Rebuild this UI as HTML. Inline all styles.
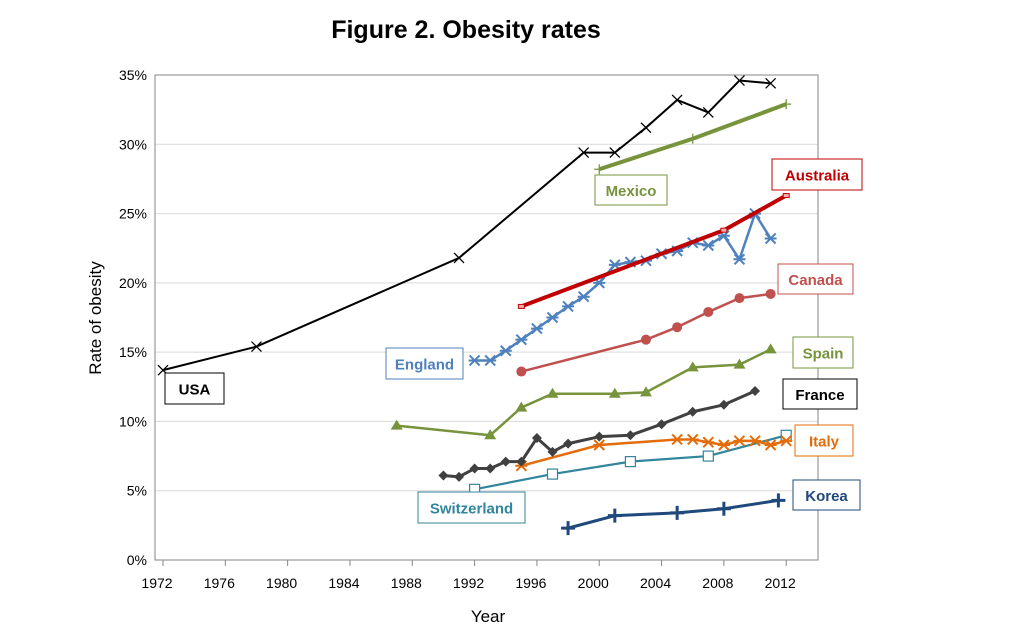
<!DOCTYPE html>
<html><head><meta charset="utf-8"><style>
body{margin:0;background:#fff;}
svg text{font-family:"Liberation Sans",sans-serif;}
</style></head><body>
<svg id="c" width="1036" height="627" xmlns="http://www.w3.org/2000/svg">
<text x="466" y="38" text-anchor="middle" font-size="25" font-weight="bold">Figure 2. Obesity rates</text>
<text x="488" y="622" text-anchor="middle" font-size="17">Year</text>
<text transform="translate(101,318) rotate(-90)" text-anchor="middle" font-size="17">Rate of obesity</text>
<g id="grid"></g><g id="axes"></g><g id="series"></g><g id="labels"></g>
</svg>
<script>
const xTicks=[1972,1976,1980,1984,1988,1992,1996,2000,2004,2008,2012];
const yTicks=[0,5,10,15,20,25,30,35];
const usaYears=[1972,1978,1991,1999,2001,2003,2005,2007,2009,2011];
const usaVals=[13.7,15.4,21.8,29.4,29.4,31.2,33.2,32.3,34.6,34.4];
const mexicoYears=[2000,2006,2012];
const mexicoVals=[28.2,30.4,32.9];
const australiaYears=[1995,2008,2012];
const australiaVals=[18.3,23.8,26.3];
const englandYears=[1992,1993,1994,1995,1996,1997,1998,1999,2000,2001,2002,2003,2004,2005,2006,2007,2008,2009,2010,2011];
const englandVals=[14.4,14.4,15.1,15.9,16.7,17.5,18.3,19.0,20.0,21.3,21.5,21.6,22.1,22.3,22.9,22.7,23.4,21.7,25.0,23.2];
const canadaYears=[1995,2003,2005,2007,2009,2011];
const canadaVals=[13.6,15.9,16.8,17.9,18.9,19.2];
const spainYears=[1987,1993,1995,1997,2001,2003,2006,2009,2011];
const spainVals=[9.7,9.0,11.0,12.0,12.0,12.1,13.9,14.1,15.2];
const franceYears=[1990,1991,1992,1993,1994,1995,1996,1997,1998,2000,2002,2004,2006,2008,2010];
const franceVals=[6.1,6.0,6.6,6.6,7.1,7.1,8.8,7.8,8.4,8.9,9.0,9.8,10.7,11.2,12.2];
const italyYears=[1995,2000,2005,2006,2007,2008,2009,2010,2011,2012];
const italyVals=[6.8,8.3,8.7,8.7,8.5,8.3,8.6,8.6,8.3,8.6];
const swissYears=[1992,1997,2002,2007,2012];
const swissVals=[5.1,6.2,7.1,7.5,9.0];
const koreaYears=[1998,2001,2005,2008,2011.5];
const koreaVals=[2.3,3.2,3.4,3.7,4.3];

const NS="http://www.w3.org/2000/svg";
const L=155,R=818,T=75,B=560;
const X=y=>163+(y-1972)*15.58;
const Y=v=>B-(v/35)*(B-T);
function mk(tag,at,parent){const e=document.createElementNS(NS,tag);for(const k in at)e.setAttribute(k,at[k]);parent.appendChild(e);return e;}
const grid=document.getElementById('grid'),axes=document.getElementById('axes'),ser=document.getElementById('series'),lab=document.getElementById('labels');
yTicks.forEach(v=>{
 if(v>0){const g=mk('line',{x1:L,x2:R,y1:Y(v),y2:Y(v),stroke:'#d9d9d9','stroke-width':1},grid);
 
 }
 const t=mk('text',{x:L-8,y:Y(v)+5,'text-anchor':'end','font-size':14},axes);t.textContent=v+'%';
 
 
});
const fr=mk('rect',{x:L,y:T,width:R-L,height:B-T,fill:'none',stroke:'#868686','stroke-width':1},axes);


xTicks.forEach(y=>{
 mk('line',{x1:X(y),x2:X(y),y1:B,y2:B+6,stroke:'#868686'},axes);
 const t=mk('text',{x:X(y)-6,y:B+28,'text-anchor':'middle','font-size':14},axes);t.textContent=y;
 
 
});
function marker(type,x,y,c,g){
 const s=5;
 if(type==='x'){mk('path',{d:`M${x-s} ${y-s}L${x+s} ${y+s}M${x-s} ${y+s}L${x+s} ${y-s}`,stroke:c,'stroke-width':1.3},g);}
 else if(type==='plus'){mk('path',{d:`M${x-s} ${y}L${x+s} ${y}M${x} ${y-s}L${x} ${y+s}`,stroke:c,'stroke-width':1.3},g);}
 else if(type==='bigplus'){mk('path',{d:`M${x-7} ${y}L${x+7} ${y}M${x} ${y-7}L${x} ${y+7}`,stroke:c,'stroke-width':3},g);}
 else if(type==='star'){mk('path',{d:`M${x-5} ${y-5}L${x+5} ${y+5}M${x-5} ${y+5}L${x+5} ${y-5}M${x-6} ${y}L${x+6} ${y}`,stroke:c,'stroke-width':2},g);}
 else if(type==='circle'){mk('circle',{cx:x,cy:y,r:5,fill:c},g);}
 else if(type==='tri'){mk('path',{d:`M${x} ${y-6}L${x+6} ${y+4}L${x-6} ${y+4}Z`,fill:c},g);}
 else if(type==='diamond'){mk('path',{d:`M${x} ${y-5}L${x+5} ${y}L${x} ${y+5}L${x-5} ${y}Z`,fill:c},g);}
 else if(type==='square'){mk('rect',{x:x-5,y:y-5,width:10,height:10,fill:'#fff',stroke:c,'stroke-width':1.2},g);}
 else if(type==='smallsq'){mk('rect',{x:x-3,y:y-2,width:6,height:4,fill:'#f4b0b0',stroke:c,'stroke-width':1},g);}
}
function series(name,yrs,vals,c,w,m){
 const g=mk('g',{},ser);
 
 
 mk('polyline',{points:yrs.map((y,i)=>X(y)+','+Y(vals[i])).join(' '),fill:'none',stroke:c,'stroke-width':w,'stroke-linejoin':'round'},g);
 yrs.forEach((y,i)=>marker(m,X(y),Y(vals[i]),c,g));
}
series('usa',usaYears,usaVals,'#000',2,'x');
series('mexico',mexicoYears,mexicoVals,'#77933c',4,'plus');
series('switzerland',swissYears,swissVals,'#31859c',2.2,'square');
series('korea',koreaYears,koreaVals,'#1f497d',3,'bigplus');
series('italy',italyYears,italyVals,'#e46c0a',2.5,'star');
series('france',franceYears,franceVals,'#404040',3,'diamond');
series('spain',spainYears,spainVals,'#77933c',2.5,'tri');
series('canada',canadaYears,canadaVals,'#c0504d',2.5,'circle');
series('england',englandYears,englandVals,'#4f81bd',2.5,'star');
series('australia',australiaYears,australiaVals,'#c00000',4,'smallsq');
const boxes=[['USA',165,373,59,31,'#000','#000'],['Mexico',595,175,72,30,'#77933c','#77933c'],['Australia',772,159,90,31,'#c00000','#c00000'],['Canada',778,264,75,30,'#c0504d','#c0504d'],['England',386,348,77,31,'#4f81bd','#4f81bd'],['Spain',793,337,60,31,'#77933c','#77933c'],['France',783,379,74,30,'#000','#000'],['Italy',795,425,58,31,'#e46c0a','#e46c0a'],['Switzerland',418,492,107,31,'#31859c','#31859c'],['Korea',793,480,67,30,'#1f497d','#1f497d']];
boxes.forEach(b=>{
 const g=mk('g',{},lab);
 
 
 mk('rect',{x:b[1],y:b[2],width:b[3],height:b[4],fill:'#fff',stroke:b[5],'stroke-width':1},g);
 const t=mk('text',{x:b[1]+b[3]/2,y:b[2]+b[4]/2+6,'text-anchor':'middle','font-size':15,'font-weight':'bold',fill:b[6]},g);t.textContent=b[0];
});
</script>
</body></html>
